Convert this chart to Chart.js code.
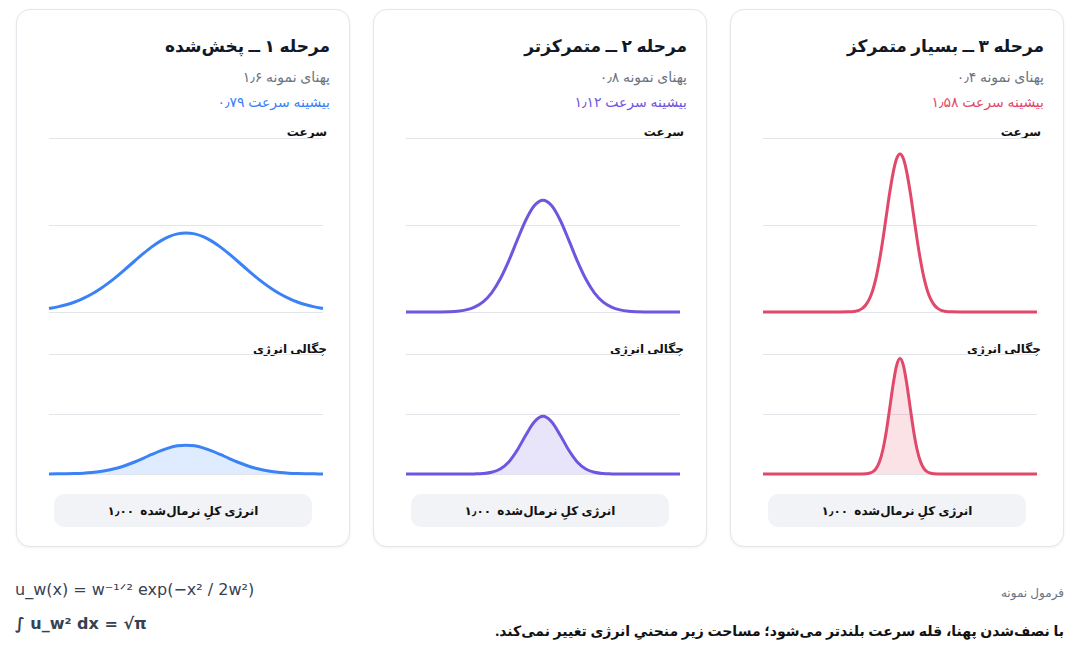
<!DOCTYPE html>
<html><head><meta charset="utf-8">
<script src="https://cdn.jsdelivr.net/npm/chart.js@4/dist/chart.umd.min.js"></script>
<style>
body{margin:0;width:1080px;height:660px;background:#fff;font-family:"Noto Sans","DejaVu Sans",sans-serif;position:relative;overflow:hidden}
.card{position:absolute;top:9px;width:332px;height:536px;border:1px solid #e3e6ea;border-radius:14px;box-shadow:0 1px 3px rgba(0,0,0,.06);background:#fff}
.t{position:absolute;right:19px;direction:rtl;white-space:nowrap}
.title{top:24px;font-size:17px;font-weight:700;color:#111827}
.sub{top:57px;font-size:14px;color:#6b7280}
.pk{top:82px;font-size:14px}
.lab{font-size:12px;font-weight:700;color:#111}
.cv{position:absolute;left:31px;width:276px}
.pill{position:absolute;left:37px;top:484px;width:258px;height:33px;background:#f1f3f6;border-radius:10px;direction:rtl;text-align:center;line-height:33px;font-size:12px;font-weight:700;color:#111}
.f{position:absolute;white-space:nowrap}
</style></head><body>
<div id="root"></div>
<div class="f" style="left:15px;top:580px;font-size:16px;color:#374151;font-family:'DejaVu Sans'">u_w(x) = w⁻¹ᐟ² exp(−x² / 2w²)</div>
<div class="f" style="left:15px;top:614px;font-size:16px;font-weight:700;color:#374151;font-family:'DejaVu Sans'">∫ u_w² dx = √π</div>
<div class="f" style="right:16px;top:584px;font-size:12px;color:#6b7280;direction:rtl">فرمول نمونه</div>
<div class="f" style="right:16px;top:621px;font-size:14px;font-weight:700;color:#111;direction:rtl">با نصف‌شدن پهنا، قله سرعت بلندتر می‌شود؛ مساحت زیر منحنیِ انرژی تغییر نمی‌کند.</div>
<script>
const titles=["مرحله ۱ ــ پخش‌شده","مرحله ۲ ــ متمرکزتر","مرحله ۳ ــ بسیار متمرکز"];
const widthLabels=["پهنای نمونه ۱٫۶","پهنای نمونه ۰٫۸","پهنای نمونه ۰٫۴"];
const peakLabels=["بیشینه سرعت ۰٫۷۹","بیشینه سرعت ۱٫۱۲","بیشینه سرعت ۱٫۵۸"];
const colors=["#3b82f6","#6f55df","#e2486a"];
const fills=["rgba(59,130,246,0.16)","rgba(111,85,223,0.16)","rgba(226,72,106,0.16)"];
const cardLeft=[16,373,730];
// half-profiles (x >= 0), mirrored for negative x
const xs1=[0,0.25,0.5,0.75,1,1.25,1.5,1.75,2,2.25,2.5,2.75,3,3.25,3.5,3.75,4];
const speed1=[.791,.781,.753,.709,.651,.583,.510,.435,.362,.294,.233,.180,.136,.100,.072,.051,.035];
const energy1=[.625,.610,.567,.502,.424,.340,.260,.189,.131,.086,.054,.032,.018,.010,.005,.003,.001];
const xs2=xs1;
const speed2=[1.118,1.064,.920,.721,.512,.330,.192,.102,.049,.021,.008,.003,.001,0,0,0,0];
const energy2=[1.25,1.133,.847,.520,.262,.109,.037,.010,.002,0,0,0,0,0,0,0,0];
const xs3=[0,.1,.2,.3,.4,.5,.6,.7,.8,.9,1,1.1,1.2,1.3,1.4,1.5,2,3,4];
const speed3=[1.581,1.532,1.394,1.194,.960,.724,.514,.341,.213,.126,.070,.036,.017,.008,.003,.002,0,0,0];
const energy3=[2.5,2.347,1.945,1.425,.921,.525,.264,.117,.046,.016,.005,.001,0,0,0,0,0,0,0];
const xsAll=[xs1,xs2,xs3],spAll=[speed1,speed2,speed3],enAll=[energy1,energy2,energy3];
const speedMax=1.74, energyMax=2.6;
function pts(xs,ys){const a=[];for(let i=xs.length-1;i>0;i--)a.push({x:-xs[i],y:ys[i]});for(let i=0;i<xs.length;i++)a.push({x:xs[i],y:ys[i]});return a;}
const root=document.getElementById('root');
for(let k=0;k<3;k++){
 const c=document.createElement('div');c.className='card';c.style.left=cardLeft[k]+'px';
 c.innerHTML=`<div class="t title">${titles[k]}</div><div class="t sub">${widthLabels[k]}</div><div class="t pk" style="color:${colors[k]}">${peakLabels[k]}</div>
 <div class="t lab" style="top:113px;right:22px">سرعت</div><canvas class="cv" id="s${k}" style="top:126px;height:178px" width="276" height="178"></canvas>
 <div class="t lab" style="top:330px;right:22px">چگالی انرژی</div><canvas class="cv" id="e${k}" style="top:342px;height:124px" width="276" height="124"></canvas>
 <div class="pill">انرژی کلِ نرمال‌شده&nbsp; ۱٫۰۰</div>`;
 root.appendChild(c);
 const mk=(id,data,max,fill)=>new Chart(document.getElementById(id),{type:'line',
  data:{datasets:[{data,borderColor:colors[k],borderWidth:3,pointRadius:0,tension:0.4,cubicInterpolationMode:'monotone',fill:fill?'origin':false,backgroundColor:fills[k],clip:false}]},
  options:{responsive:false,animation:false,layout:{padding:{top:2,bottom:2,left:1,right:1}},plugins:{legend:{display:false},tooltip:{enabled:false}},
   scales:{x:{type:'linear',min:-4,max:4,display:false},
    y:{min:0,max:max,ticks:{display:false,stepSize:max/2},border:{display:false},grid:{color:'#e2e5ea',drawTicks:false}}}}});
 mk('s'+k,pts(xsAll[k],spAll[k]),speedMax,false);
 mk('e'+k,pts(xsAll[k],enAll[k]),energyMax,true);
}
</script></body></html>
